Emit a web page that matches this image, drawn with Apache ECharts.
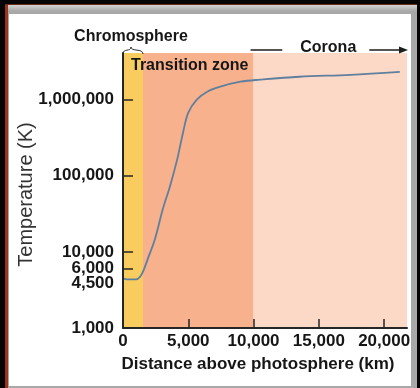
<!DOCTYPE html>
<html>
<head>
<meta charset="utf-8">
<script src="https://cdn.jsdelivr.net/npm/echarts@6/dist/echarts.min.js"></script>
<style>
  html, body { margin: 0; padding: 0; background: #000; }
  .layer { position: absolute; }
  #outer { left: 0; top: 0; width: 420px; height: 388px; background: #060404; }
  #edge { left: 5px; top: 4px; width: 3px; height: 384px; background: #9a3518; }
  #topedge { left: 5px; top: 4px; width: 412px; height: 1px; background: #6a2a18; }
  #bevel { left: 8px; top: 5px; width: 409px; height: 383px; background: linear-gradient(#d4d4d4, #a8a8a8 6px); }
  #panel { left: 9px; top: 14px; width: 402px; height: 372px; background: #ffffff; }
  #chart { left: 0; top: 0; width: 420px; height: 388px; }
</style>
</head>
<body>
<div id="outer" class="layer"></div>
<div id="edge" class="layer"></div>
<div id="bevel" class="layer"></div>
<div id="topedge" class="layer"></div>
<div id="panel" class="layer"></div>
<div id="chart" class="layer"></div>
<script>
// Temperature profile of the solar atmosphere above the photosphere
const distanceKm = [0, 300, 1000, 1300, 1550, 1900, 2450, 3050, 3600, 4150, 4600, 5000, 5650, 6450, 7450, 9000, 10500, 13500, 17400, 21200];
const temperatureK = [4500, 4350, 4350, 4700, 5600, 8100, 14800, 36500, 73000, 164000, 371000, 676000, 1000000, 1270000, 1480000, 1720000, 1830000, 2000000, 2120000, 2320000];

// Atmospheric layers along the distance axis (km)
const zoneEdges = [0, 1530, 10000, 21750];
const zoneNames = ['Chromosphere', 'Transition zone', 'Corona'];

// Axis ticks
const xTicks = [0, 5000, 10000, 15000, 20000];
const yTickMarks = [1000, 6000, 10000, 100000, 1000000];
const yTickLabels = [1000, 4500, 6000, 10000, 100000, 1000000];
const yRange = [1000, 4100000];

const zoneColors = ['#f9cc60', '#f7b18c', '#fcd8c6'];
const font = 'Liberation Sans, Arial, Helvetica, sans-serif';
const ink = '#161616';

function withCommas(v) {
  return String(Math.round(v)).replace(/\B(?=(\d{3})+(?!\d))/g, ',');
}

const chart = echarts.init(document.getElementById('chart'), null, { renderer: 'canvas' });

chart.setOption({
  animation: false,
  backgroundColor: 'transparent',
  grid: { left: 123, right: 13, top: 53, bottom: 60 },
  xAxis: {
    type: 'value',
    min: zoneEdges[0],
    max: zoneEdges[3],
    z: 10,
    name: 'Distance above photosphere (km)',
    nameLocation: 'middle',
    nameGap: 28,
    nameMoveOverlap: false,
    nameTextStyle: { fontFamily: font, fontWeight: 'bold', fontSize: 17, color: ink, padding: [0, 14, 0, 0] },
    splitLine: { show: false },
    axisLine: { lineStyle: { color: '#262626', width: 2 } },
    axisTick: { inside: true, length: 9, customValues: xTicks, lineStyle: { color: '#262626', width: 1.5 } },
    axisLabel: {
      customValues: xTicks,
      margin: 5,
      fontFamily: font, fontWeight: 'bold', fontSize: 17, color: ink,
      formatter: withCommas
    }
  },
  yAxis: {
    type: 'log',
    logBase: 10,
    min: yRange[0],
    max: yRange[1],
    z: 10,
    name: 'Temperature (K)',
    nameLocation: 'middle',
    nameGap: 87,
    nameMoveOverlap: false,
    nameRotate: 90,
    nameTextStyle: { fontFamily: font, fontSize: 20, color: '#333333', padding: [0, 0, 0, -8] },
    splitLine: { show: false },
    axisLine: { lineStyle: { color: '#262626', width: 2 } },
    axisTick: { inside: true, length: 10, customValues: yTickMarks, lineStyle: { color: '#262626', width: 1.5 } },
    axisLabel: {
      customValues: yTickLabels,
      margin: 9,
      fontFamily: font, fontWeight: 'bold', fontSize: 17, color: ink,
      formatter: function (v) {
        const s = withCommas(v);
        if (Math.round(v) === 4500) return '{lo|' + s + '}';
        return s;
      },
      rich: {
        lo: { fontFamily: font, fontWeight: 'bold', fontSize: 17, color: ink, padding: [10, 0, 0, 0] }
      }
    }
  },
  series: [{
    type: 'line',
    data: distanceKm.map((d, i) => [d, temperatureK[i]]),
    smooth: 0.35,
    symbol: 'none',
    lineStyle: { color: '#5f7f9f', width: 1.8 },
    z: 5,
    markArea: {
      silent: true,
      label: { show: false },
      data: zoneNames.map((n, i) => [
        { name: n, xAxis: zoneEdges[i], itemStyle: { color: zoneColors[i] } },
        { xAxis: zoneEdges[i + 1] }
      ])
    }
  }]
});

// Layer captions, brace and arrow, placed from the axis scales
const px = v => chart.convertToPixel({ xAxisIndex: 0 }, v);
const py = v => chart.convertToPixel({ yAxisIndex: 0 }, v);
const x0 = px(zoneEdges[0]), x1 = px(zoneEdges[1]), x2 = px(zoneEdges[2]), x3 = px(zoneEdges[3]);
const bandTop = py(yRange[1]);
const chromoMid = (x0 + x1) / 2 - 2;
const coronaMid = (x2 + x3) / 2 - 2;
const lineY = bandTop - 3;
const strokeInk = { stroke: '#1c1c1c', lineWidth: 1.5, fill: null };
const braceStyle = { stroke: '#2a2a2a', lineWidth: 1, fill: null };

chart.setOption({
  graphic: [
    {
      type: 'text', z: 20,
      style: { x: chromoMid, y: bandTop - 16, text: zoneNames[0], align: 'center', verticalAlign: 'middle',
               font: 'bold 16px ' + font, fill: ink }
    },
    {
      type: 'bezierCurve', z: 20,
      shape: { x1: x0, y1: bandTop + 1, cpx1: x0, cpy1: bandTop - 5, cpx2: chromoMid, cpy2: bandTop - 1, x2: chromoMid, y2: bandTop - 6 },
      style: braceStyle
    },
    {
      type: 'bezierCurve', z: 20,
      shape: { x1: chromoMid, y1: bandTop - 6, cpx1: chromoMid, cpy1: bandTop - 1, cpx2: x1, cpy2: bandTop - 5, x2: x1, y2: bandTop + 1 },
      style: braceStyle
    },
    {
      type: 'text', z: 20,
      style: { x: x0 + 8, y: bandTop + 13, text: zoneNames[1], align: 'left', verticalAlign: 'middle',
               font: 'bold 16px ' + font, fill: ink }
    },
    {
      type: 'text', z: 20,
      style: { x: coronaMid, y: bandTop - 5, text: zoneNames[2], align: 'center', verticalAlign: 'middle',
               font: 'bold 16px ' + font, fill: ink }
    },
    {
      type: 'line', z: 20,
      shape: { x1: x2 - 3, y1: lineY, x2: coronaMid - 46, y2: lineY },
      style: strokeInk
    },
    {
      type: 'line', z: 20,
      shape: { x1: coronaMid + 41, y1: lineY, x2: x3 - 6, y2: lineY },
      style: strokeInk
    },
    {
      type: 'polygon', z: 20,
      shape: { points: [[x3 + 1, lineY], [x3 - 8, lineY - 3.5], [x3 - 8, lineY + 3.5]] },
      style: { fill: '#1c1c1c' }
    }
  ]
});
</script>
</body>
</html>
